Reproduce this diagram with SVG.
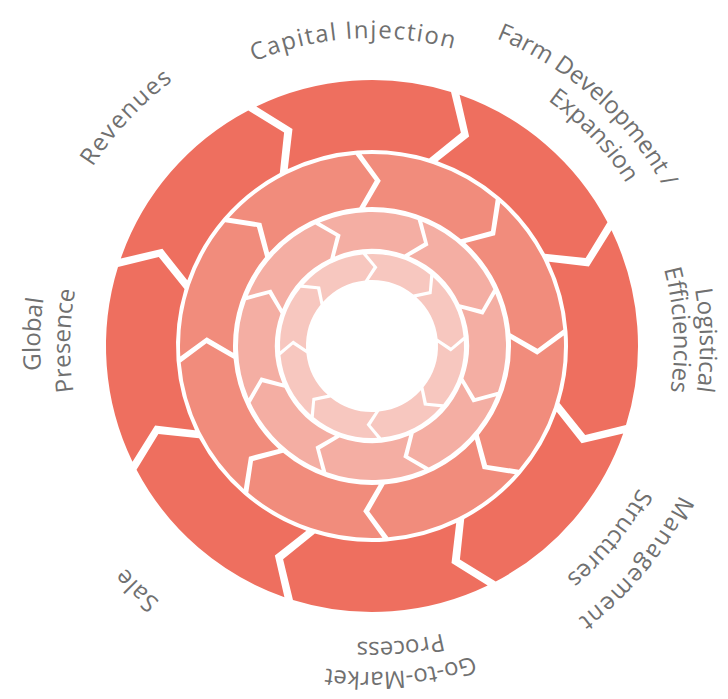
<svg xmlns="http://www.w3.org/2000/svg" width="728" height="699" viewBox="0 0 728 699">
<style>
.r1{fill:#EE6F5F}
.r2{fill:#F18C7C}
.r3{fill:#F4AEA3}
.r4{fill:#F7C7BF}
.lbl{font-family:"Open Sans","Noto Sans","Liberation Sans",sans-serif;font-size:24px;fill:#707070}
.w1{letter-spacing:1.5px}
.w2{letter-spacing:0.8px}
</style>
<defs>
<path id="s1" d="M242.47,-109.38 A266,266 0 0,1 251.84,85.64 L210.81,94.45 L185.94,61.98 A196,196 0 0,0 179.15,-79.52 L218.89,-73.81 Z"/>
<path id="s2" d="M174.57,-79.94 A192,192 0 0,1 181.97,61.26 L150.65,68.53 L132.0,43.56 A139,139 0 0,0 126.72,-57.12 L156.98,-52.41 Z"/>
<path id="s3" d="M121.51,-56.49 A134,134 0 0,1 127.49,41.26 L104.88,48.37 L92.5,29.21 A97,97 0 0,0 88.25,-40.26 L110.0,-35.23 Z"/>
<path id="s4" d="M83.55,-38.52 A92,92 0 0,1 87.62,28.05 L71.86,32.82 L63.03,19.59 A66,66 0 0,0 60.17,-27.12 L75.32,-23.82 Z"/>
<path id="a296" d="M-296,0 A296,296 0 0,1 296,0"/>
<path id="a302" d="M-302,0 A302,302 0 0,1 302,0"/>
<path id="a308" d="M-308,0 A308,308 0 0,1 308,0"/>
<path id="a326" d="M-326,0 A326,326 0 0,1 326,0"/>
<path id="a328" d="M-328,0 A328,328 0 0,1 328,0"/>
<path id="a332" d="M-332,0 A332,332 0 0,1 332,0"/>
<path id="a342" d="M-342,0 A342,342 0 0,1 342,0"/>
</defs>
<rect width="728" height="699" fill="#ffffff"/>
<g id="outer-ring" transform="translate(372,346)">
  <g id="capital-injection">
    <use href="#s1" class="r1" transform="rotate(-91.5)"/>
    <text class="lbl w1" transform="rotate(-3.5)"><textPath href="#a308" startOffset="50%" text-anchor="middle">Capital Injection</textPath></text>
  </g>
  <g id="farm-development">
    <use href="#s1" class="r1" transform="rotate(-46.5)"/>
    <text class="lbl" transform="rotate(41.8)"><textPath href="#a332" startOffset="50%" text-anchor="middle">Farm Development /</textPath></text>
    <text class="lbl" transform="rotate(46.5)"><textPath href="#a302" startOffset="50%" text-anchor="middle">Expansion</textPath></text>
  </g>
  <g id="logistical-efficiencies">
    <use href="#s1" class="r1" transform="rotate(-1.5)"/>
    <text class="lbl" transform="rotate(89)"><textPath href="#a328" startOffset="50%" text-anchor="middle">Logistical</textPath></text>
    <text class="lbl" transform="rotate(87)"><textPath href="#a302" startOffset="50%" text-anchor="middle">Efficiencies</textPath></text>
  </g>
  <g id="management-structures">
    <use href="#s1" class="r1" transform="rotate(43.5)"/>
    <text class="lbl w1" transform="rotate(129.5)"><textPath href="#a342" startOffset="50%" text-anchor="middle">Management</textPath></text>
    <text class="lbl" transform="rotate(129)"><textPath href="#a302" startOffset="50%" text-anchor="middle">Structures</textPath></text>
  </g>
  <g id="go-to-market">
    <use href="#s1" class="r1" transform="rotate(88.5)"/>
    <text class="lbl" transform="rotate(175)"><textPath href="#a326" startOffset="50%" text-anchor="middle">Go-to-Market</textPath></text>
    <text class="lbl" transform="rotate(174.6)"><textPath href="#a296" startOffset="50%" text-anchor="middle">Process</textPath></text>
  </g>
  <g id="sale">
    <use href="#s1" class="r1" transform="rotate(133.5)"/>
    <text class="lbl w2" transform="rotate(224)"><textPath href="#a332" startOffset="50%" text-anchor="middle">Sale</textPath></text>
  </g>
  <g id="global-presence">
    <use href="#s1" class="r1" transform="rotate(178.5)"/>
    <text class="lbl" transform="rotate(272)"><textPath href="#a332" startOffset="50%" text-anchor="middle">Global</textPath></text>
    <text class="lbl" transform="rotate(271)"><textPath href="#a302" startOffset="50%" text-anchor="middle">Presence</textPath></text>
  </g>
  <g id="revenues">
    <use href="#s1" class="r1" transform="rotate(223.5)"/>
    <text class="lbl w1" transform="rotate(-47)"><textPath href="#a332" startOffset="50%" text-anchor="middle">Revenues</textPath></text>
  </g>
</g>
<g id="ring-2" transform="translate(372,346)">
  <use href="#s2" class="r2" transform="rotate(21.5)"/>
  <use href="#s2" class="r2" transform="rotate(66.5)"/>
  <use href="#s2" class="r2" transform="rotate(111.5)"/>
  <use href="#s2" class="r2" transform="rotate(156.5)"/>
  <use href="#s2" class="r2" transform="rotate(201.5)"/>
  <use href="#s2" class="r2" transform="rotate(246.5)"/>
  <use href="#s2" class="r2" transform="rotate(291.5)"/>
  <use href="#s2" class="r2" transform="rotate(336.5)"/>
</g>
<g id="ring-3" transform="translate(372,346)">
  <use href="#s3" class="r3" transform="rotate(2)"/>
  <use href="#s3" class="r3" transform="rotate(47)"/>
  <use href="#s3" class="r3" transform="rotate(92)"/>
  <use href="#s3" class="r3" transform="rotate(137)"/>
  <use href="#s3" class="r3" transform="rotate(182)"/>
  <use href="#s3" class="r3" transform="rotate(227)"/>
  <use href="#s3" class="r3" transform="rotate(272)"/>
  <use href="#s3" class="r3" transform="rotate(317)"/>
</g>
<g id="ring-4" transform="translate(372,346)">
  <use href="#s4" class="r4" transform="rotate(21.5)"/>
  <use href="#s4" class="r4" transform="rotate(66.5)"/>
  <use href="#s4" class="r4" transform="rotate(111.5)"/>
  <use href="#s4" class="r4" transform="rotate(156.5)"/>
  <use href="#s4" class="r4" transform="rotate(201.5)"/>
  <use href="#s4" class="r4" transform="rotate(246.5)"/>
  <use href="#s4" class="r4" transform="rotate(291.5)"/>
  <use href="#s4" class="r4" transform="rotate(336.5)"/>
</g>
</svg>
